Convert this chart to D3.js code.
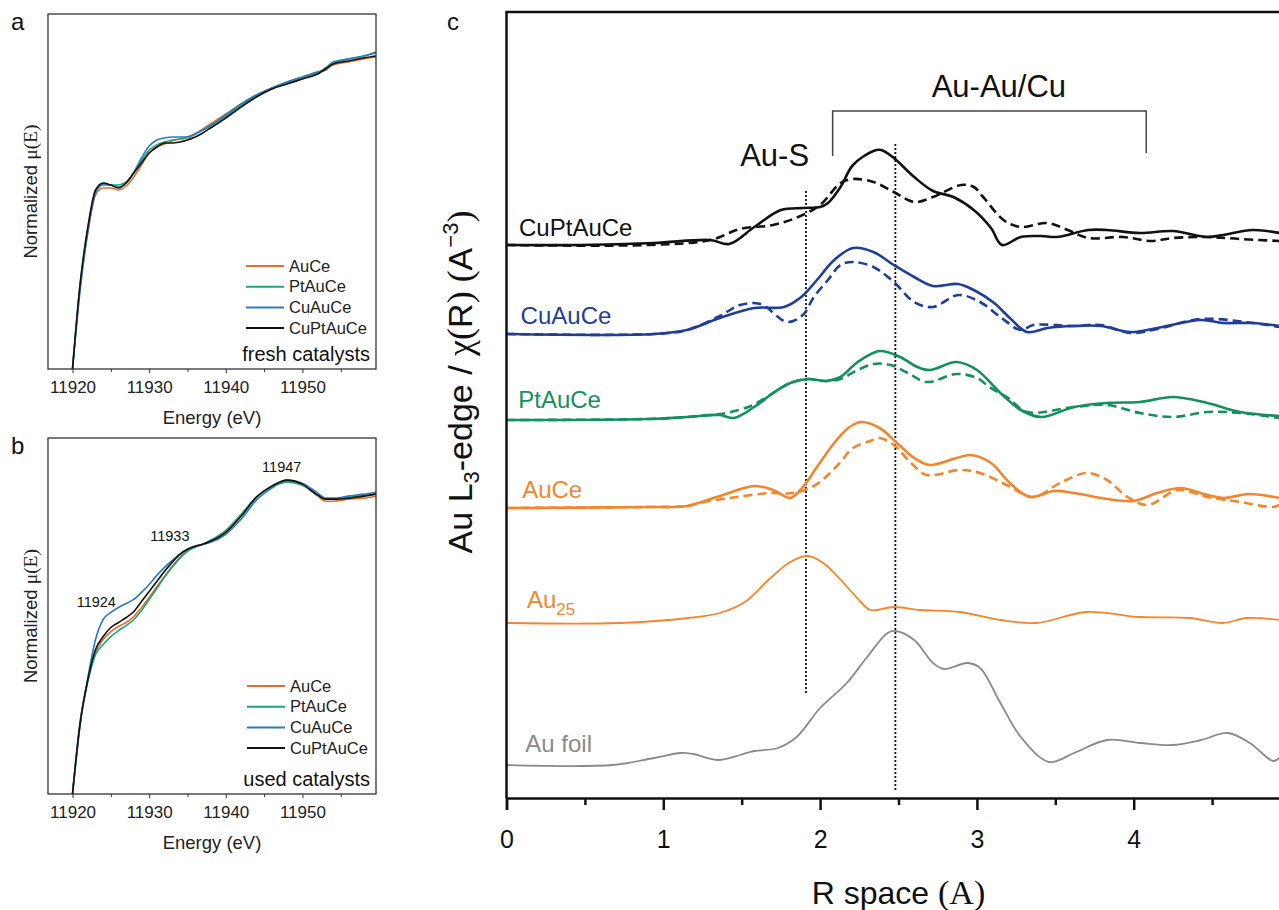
<!DOCTYPE html>
<html>
<head>
<meta charset="utf-8">
<script src="https://cdn.jsdelivr.net/npm/d3@7"></script>
<style>
  body { margin: 0; background: #fff; }
  svg { display: block; font-family: "Liberation Sans", Arial, sans-serif; }
</style>
</head>
<body>
<svg id="fig" width="1279" height="910"></svg>
<script>
// ---------- panels a / b : XANES ----------
const energy = [11920, 11921, 11922, 11923, 11924, 11925, 11926, 11927, 11928, 11929,
  11930, 11931, 11932, 11933, 11934, 11935, 11936, 11937, 11938, 11940,
  11942, 11944, 11946, 11948, 11950, 11952, 11953, 11954, 11956, 11958, 11959.6];
const energyTicks = [11920, 11930, 11940, 11950];
const energyMinor = [11925, 11935, 11945, 11955];
const xanesNames = ['AuCe', 'PtAuCe', 'CuAuCe', 'CuPtAuCe'];
const xanesColors = ['#e36f2c', '#1aa67a', '#2a7bbf', '#111111'];

const freshAuCe = [0, 0.34, 0.548, 0.696, 0.724, 0.724, 0.716, 0.732, 0.768, 0.816,
  0.864, 0.888, 0.9, 0.912, 0.92, 0.924, 0.94, 0.96, 0.98, 1.02,
  1.06, 1.096, 1.124, 1.148, 1.168, 1.188, 1.196, 1.216, 1.228, 1.24, 1.248];
const freshPtAuCe = [0, 0.332, 0.56, 0.708, 0.736, 0.736, 0.736, 0.748, 0.784, 0.832,
  0.876, 0.896, 0.908, 0.916, 0.92, 0.928, 0.94, 0.956, 0.976, 1.012,
  1.056, 1.092, 1.12, 1.144, 1.164, 1.184, 1.204, 1.228, 1.24, 1.252, 1.268];
const freshCuAuCe = [0, 0.316, 0.548, 0.704, 0.74, 0.736, 0.728, 0.744, 0.788, 0.844,
  0.892, 0.916, 0.924, 0.928, 0.928, 0.928, 0.94, 0.956, 0.972, 1.016,
  1.06, 1.096, 1.124, 1.148, 1.168, 1.188, 1.196, 1.224, 1.24, 1.252, 1.264];
const freshCuPtAuCe = [0, 0.344, 0.568, 0.716, 0.744, 0.736, 0.724, 0.744, 0.784, 0.824,
  0.864, 0.888, 0.904, 0.904, 0.908, 0.916, 0.928, 0.944, 0.964, 1.004,
  1.048, 1.088, 1.12, 1.14, 1.16, 1.18, 1.2, 1.22, 1.232, 1.244, 1.252];

const usedAuCe = [0, 0.288, 0.456, 0.564, 0.616, 0.648, 0.668, 0.684, 0.708, 0.744,
  0.784, 0.828, 0.868, 0.908, 0.944, 0.972, 0.988, 0.996, 1.008, 1.048,
  1.112, 1.184, 1.228, 1.248, 1.232, 1.188, 1.168, 1.168, 1.176, 1.18, 1.188];
const usedPtAuCe = [0, 0.288, 0.448, 0.556, 0.596, 0.628, 0.652, 0.672, 0.696, 0.732,
  0.776, 0.82, 0.864, 0.904, 0.94, 0.968, 0.984, 0.996, 1.012, 1.052,
  1.116, 1.184, 1.224, 1.244, 1.232, 1.192, 1.176, 1.176, 1.184, 1.192, 1.2];
const usedCuAuCe = [0, 0.276, 0.464, 0.616, 0.696, 0.724, 0.744, 0.76, 0.776, 0.804,
  0.836, 0.872, 0.904, 0.932, 0.956, 0.976, 0.988, 0.996, 1.004, 1.036,
  1.096, 1.172, 1.22, 1.252, 1.24, 1.2, 1.18, 1.18, 1.188, 1.196, 1.204];
const usedCuPtAuCe = [0, 0.284, 0.456, 0.576, 0.628, 0.664, 0.684, 0.704, 0.728, 0.768,
  0.808, 0.848, 0.888, 0.924, 0.956, 0.976, 0.988, 0.996, 1.008, 1.044,
  1.108, 1.184, 1.228, 1.252, 1.236, 1.192, 1.176, 1.176, 1.18, 1.188, 1.196];

const usedFeatures = ['11924', '11933', '11947'];

// ---------- panel c : EXAFS, [R, chi + offset] ----------
const rTicks = [0, 1, 2, 3, 4];
const rMinor = [0.5, 1.5, 2.5, 3.5, 4.5];

const cuptauceSolid = [[0, 5.53], [0.47, 5.53], [0.94, 5.55], [1.3, 5.58], [1.42, 5.54], [1.58, 5.71],
  [1.75, 5.88], [1.89, 5.9], [2.0, 5.91], [2.05, 5.95], [2.13, 6.11], [2.21, 6.33], [2.34, 6.47],
  [2.39, 6.48], [2.47, 6.4], [2.6, 6.21], [2.72, 6.07], [2.85, 6.01], [2.98, 5.88], [3.09, 5.7],
  [3.16, 5.53], [3.28, 5.61], [3.41, 5.62], [3.51, 5.61], [3.71, 5.68], [3.83, 5.68], [4.04, 5.65],
  [4.25, 5.67], [4.47, 5.61], [4.57, 5.63], [4.76, 5.68], [4.93, 5.65]];
const cuptauceDash = [[0, 5.53], [0.9, 5.53], [1.3, 5.58], [1.49, 5.69], [1.7, 5.73], [1.86, 5.81],
  [2.0, 5.93], [2.13, 6.15], [2.21, 6.19], [2.34, 6.16], [2.47, 6.06], [2.6, 5.96], [2.72, 6.01],
  [2.9, 6.13], [2.98, 6.11], [3.04, 6.01], [3.17, 5.78], [3.28, 5.71], [3.45, 5.75], [3.58, 5.68],
  [3.71, 5.6], [3.93, 5.61], [4.11, 5.57], [4.25, 5.6], [4.47, 5.61], [4.68, 5.59], [4.93, 5.57]];

const cuauceSolid = [[0, 4.64], [0.94, 4.64], [1.15, 4.68], [1.36, 4.8], [1.58, 4.9], [1.77, 4.91],
  [1.88, 5.01], [1.98, 5.18], [2.09, 5.38], [2.21, 5.5], [2.34, 5.46], [2.47, 5.33], [2.6, 5.21],
  [2.72, 5.12], [2.88, 5.14], [2.98, 5.08], [3.11, 4.95], [3.21, 4.8], [3.32, 4.66], [3.45, 4.7],
  [3.62, 4.72], [3.79, 4.72], [3.98, 4.66], [4.15, 4.7], [4.43, 4.78], [4.57, 4.75], [4.76, 4.75],
  [4.93, 4.72]];
const cuauceDash = [[0, 4.64], [0.94, 4.64], [1.15, 4.68], [1.36, 4.82], [1.49, 4.93], [1.62, 4.94],
  [1.79, 4.76], [1.89, 4.83], [1.96, 5.01], [2.05, 5.18], [2.13, 5.33], [2.21, 5.36], [2.34, 5.31],
  [2.47, 5.16], [2.6, 4.96], [2.72, 4.91], [2.88, 5.03], [3.02, 4.96], [3.15, 4.81], [3.28, 4.68],
  [3.36, 4.73], [3.62, 4.72], [3.79, 4.73], [3.98, 4.65], [4.15, 4.69], [4.43, 4.79], [4.76, 4.75],
  [4.93, 4.71]];

const ptauceSolid = [[0, 3.78], [0.9, 3.79], [1.15, 3.81], [1.36, 3.83], [1.45, 3.8], [1.58, 3.91],
  [1.7, 4.05], [1.81, 4.15], [1.92, 4.19], [2.04, 4.17], [2.13, 4.21], [2.24, 4.36], [2.38, 4.47],
  [2.51, 4.41], [2.62, 4.31], [2.7, 4.28], [2.87, 4.36], [3.0, 4.28], [3.15, 4.05], [3.28, 3.88],
  [3.41, 3.81], [3.62, 3.91], [3.83, 3.95], [4.04, 3.96], [4.25, 4.01], [4.47, 3.95], [4.68, 3.86],
  [4.93, 3.82]];
const ptauceDash = [[0, 3.78], [0.9, 3.79], [1.15, 3.81], [1.36, 3.84], [1.43, 3.86], [1.56, 3.92],
  [1.66, 4.01], [1.81, 4.15], [1.92, 4.19], [2.04, 4.17], [2.13, 4.19], [2.24, 4.28], [2.34, 4.34],
  [2.45, 4.33], [2.56, 4.25], [2.68, 4.16], [2.87, 4.24], [3.0, 4.2], [3.08, 4.11], [3.2, 4.0],
  [3.32, 3.86], [3.62, 3.91], [3.83, 3.93], [4.04, 3.85], [4.25, 3.81], [4.47, 3.86], [4.68, 3.85],
  [4.93, 3.8]];

const auceSolid = [[0, 2.9], [0.9, 2.91], [1.15, 2.92], [1.36, 3.02], [1.58, 3.12], [1.7, 3.08],
  [1.81, 3.0], [1.89, 3.11], [1.98, 3.31], [2.09, 3.55], [2.18, 3.7], [2.26, 3.76], [2.38, 3.7],
  [2.49, 3.55], [2.6, 3.4], [2.7, 3.33], [2.87, 3.4], [2.96, 3.43], [3.09, 3.35], [3.21, 3.15],
  [3.34, 3.01], [3.49, 3.07], [3.62, 3.05], [3.83, 2.99], [4.0, 2.97], [4.15, 3.05], [4.3, 3.1],
  [4.47, 3.03], [4.57, 3.0], [4.74, 3.04], [4.93, 3.0]];
const auceDash = [[0, 2.9], [0.9, 2.91], [1.15, 2.92], [1.26, 2.96], [1.47, 3.01], [1.68, 3.05],
  [1.83, 3.05], [1.96, 3.12], [2.05, 3.23], [2.13, 3.36], [2.21, 3.5], [2.32, 3.57], [2.38, 3.6],
  [2.47, 3.53], [2.58, 3.35], [2.68, 3.23], [2.89, 3.28], [3.02, 3.25], [3.19, 3.13], [3.36, 3.01],
  [3.53, 3.15], [3.7, 3.25], [3.83, 3.18], [3.96, 3.01], [4.09, 2.93], [4.28, 3.08], [4.47, 3.01],
  [4.68, 2.96], [4.89, 2.91], [4.93, 2.93]];

const au25 = [[0, 1.75], [0.72, 1.75], [1.16, 1.8], [1.36, 1.85], [1.52, 1.96], [1.67, 2.18],
  [1.81, 2.36], [1.92, 2.42], [2.02, 2.35], [2.15, 2.15], [2.26, 1.96], [2.32, 1.88], [2.47, 1.91],
  [2.64, 1.88], [2.89, 1.86], [3.15, 1.78], [3.38, 1.75], [3.7, 1.86], [4.04, 1.81], [4.36, 1.8],
  [4.57, 1.75], [4.72, 1.8], [4.93, 1.78]];
const auFoil = [[0, 0.33], [0.68, 0.33], [0.94, 0.4], [1.11, 0.45], [1.19, 0.44], [1.35, 0.38],
  [1.49, 0.43], [1.58, 0.47], [1.73, 0.5], [1.85, 0.61], [2.0, 0.9], [2.17, 1.15], [2.3, 1.41],
  [2.43, 1.65], [2.48, 1.67], [2.6, 1.58], [2.72, 1.35], [2.79, 1.29], [2.94, 1.35], [3.02, 1.3],
  [3.15, 0.95], [3.28, 0.61], [3.46, 0.36], [3.62, 0.45], [3.83, 0.58], [4.04, 0.55], [4.25, 0.53],
  [4.43, 0.58], [4.6, 0.65], [4.74, 0.55], [4.89, 0.37], [4.93, 0.4]];

const shellMarks = [1.91, 2.48];

// ---------------------------------------------------
const SANS = '"Liberation Sans", Arial, sans-serif';
const SERIF = '"Liberation Serif", "Times New Roman", serif';
const svg = d3.select('#fig');
const defs = svg.append('defs');

const xE = d3.scaleLinear().domain([11916.8, 11959.6]).range([48, 376]);

function xanesPanel(cfg) {
  const y = d3.scaleLinear().domain([0, 1.42]).range([cfg.bottom, cfg.top]);
  const g = svg.append('g');

  defs.append('clipPath').attr('id', 'clip-' + cfg.tag)
    .append('rect')
    .attr('x', xE.range()[0]).attr('y', cfg.top)
    .attr('width', xE.range()[1] - xE.range()[0]).attr('height', cfg.bottom - cfg.top);

  const line = d3.line()
    .x((d, i) => xE(energy[i]))
    .y(d => y(d))
    .curve(d3.curveMonotoneX);

  cfg.series.forEach((s, i) => {
    g.append('path')
      .datum(s)
      .attr('clip-path', `url(#clip-${cfg.tag})`)
      .attr('fill', 'none')
      .attr('stroke', xanesColors[i])
      .attr('stroke-width', 1.6)
      .attr('d', line);
  });

  g.append('rect')
    .attr('x', xE.range()[0]).attr('y', cfg.top)
    .attr('width', xE.range()[1] - xE.range()[0]).attr('height', cfg.bottom - cfg.top)
    .attr('fill', 'none').attr('stroke', '#333').attr('stroke-width', 1.3);

  g.append('g')
    .attr('transform', `translate(0,${cfg.bottom})`)
    .call(d3.axisBottom(xE).tickValues(energyTicks).tickFormat(d3.format('d')).tickSize(4).tickPadding(8))
    .call(a => a.select('.domain').remove())
    .call(a => a.selectAll('line').attr('stroke', '#333'))
    .call(a => a.selectAll('text').attr('font-size', 17).attr('font-family', SANS).attr('fill', '#222'));

  g.append('g')
    .attr('transform', `translate(0,${cfg.bottom})`)
    .call(d3.axisBottom(xE).tickValues(energyMinor).tickFormat('').tickSize(3))
    .call(a => a.select('.domain').remove())
    .call(a => a.selectAll('line').attr('stroke', '#333'));

  g.append('text')
    .attr('x', (xE.range()[0] + xE.range()[1]) / 2)
    .attr('y', cfg.bottom + 55)
    .attr('text-anchor', 'middle')
    .attr('font-size', 18.5).attr('fill', '#222')
    .text('Energy (eV)');

  const yt = g.append('text')
    .attr('transform', `translate(37,${(cfg.top + cfg.bottom) / 2}) rotate(-90)`)
    .attr('text-anchor', 'middle')
    .attr('font-size', 18.5).attr('fill', '#222');
  yt.append('tspan').text('Normalized ');
  yt.append('tspan').attr('font-family', SERIF).attr('font-size', 19.5).text('\u03bc(E)');

  // legend
  xanesNames.forEach((n, i) => {
    const ly = cfg.legendY + i * 20.7;
    g.append('line')
      .attr('x1', cfg.legendX).attr('x2', cfg.legendX + 38)
      .attr('y1', ly).attr('y2', ly)
      .attr('stroke', xanesColors[i]).attr('stroke-width', 2);
    g.append('text')
      .attr('x', cfg.legendX + 43).attr('y', ly).attr('dy', '0.35em')
      .attr('font-size', 16.5).attr('fill', '#222')
      .text(n);
  });

  g.append('text')
    .attr('x', 370).attr('y', cfg.bottom - 8)
    .attr('text-anchor', 'end')
    .attr('font-size', 20).attr('fill', '#111')
    .text(cfg.caption);

  g.append('text')
    .attr('x', 11).attr('y', cfg.top + 16)
    .attr('font-size', 24).attr('fill', '#111')
    .text(cfg.tag);

  return {g, y};
}

xanesPanel({
  tag: 'a', top: 14, bottom: 369,
  series: [freshAuCe, freshPtAuCe, freshCuAuCe, freshCuPtAuCe],
  legendX: 246, legendY: 266, caption: 'fresh catalysts'
});

const pb = xanesPanel({
  tag: 'b', top: 438, bottom: 794,
  series: [usedAuCe, usedPtAuCe, usedCuAuCe, usedCuPtAuCe],
  legendX: 247, legendY: 686, caption: 'used catalysts'
});

// feature energies marked on the used spectra
const featurePos = [[11923.1, 0.744], [11932.7, 1.008], [11947.3, 1.284]];
usedFeatures.forEach((t, i) => {
  pb.g.append('text')
    .attr('x', xE(featurePos[i][0])).attr('y', pb.y(featurePos[i][1]))
    .attr('text-anchor', 'middle')
    .attr('font-size', 14.5).attr('fill', '#111')
    .text(t);
});

// ---------- panel c ----------
const xR = d3.scaleLinear().domain([0, 5]).range([506.5, 1290.5]);
const yC = d3.scaleLinear().domain([0, 7.86]).range([798, 12]);
const gc = svg.append('g');

const exLine = d3.line()
  .x(d => xR(d[0]))
  .y(d => yC(d[1]))
  .curve(d3.curveCatmullRom.alpha(0.5));

const BLACK = '#111', BLUE = '#1f3e9c', GREEN = '#14905f', ORANGE = '#f5852c', GREY = '#8a8a8a';

const exafs = [
  {pts: cuptauceDash, color: BLACK, w: 2.6, dash: '9,5'},
  {pts: cuptauceSolid, color: BLACK, w: 2.6},
  {pts: cuauceDash, color: BLUE, w: 2.6, dash: '9,5'},
  {pts: cuauceSolid, color: BLUE, w: 2.6},
  {pts: ptauceDash, color: GREEN, w: 2.6, dash: '9,5'},
  {pts: ptauceSolid, color: GREEN, w: 2.6},
  {pts: auceDash, color: ORANGE, w: 2.6, dash: '9,5'},
  {pts: auceSolid, color: ORANGE, w: 2.6},
  {pts: au25, color: ORANGE, w: 1.8},
  {pts: auFoil, color: GREY, w: 1.8}
];

// reference distances
const markSpan = [[1.05, 6.08], [0.08, 6.56]];
shellMarks.forEach((r, i) => {
  gc.append('line')
    .attr('x1', xR(r)).attr('x2', xR(r))
    .attr('y1', yC(markSpan[i][0])).attr('y2', yC(markSpan[i][1]))
    .attr('stroke', '#111').attr('stroke-width', 1.8).attr('stroke-dasharray', '2,2');
});

exafs.forEach(s => {
  gc.append('path')
    .datum(s.pts)
    .attr('fill', 'none')
    .attr('stroke', s.color)
    .attr('stroke-width', s.w)
    .attr('stroke-dasharray', s.dash || null)
    .attr('stroke-linejoin', 'round')
    .attr('d', exLine);
});

// frame: left + top
gc.append('path')
  .attr('d', `M${xR(5)},${yC.range()[1]}H${xR(0)}V${yC.range()[0]}`)
  .attr('fill', 'none').attr('stroke', '#111').attr('stroke-width', 2.5);

gc.append('g')
  .attr('transform', `translate(0,${yC.range()[0]})`)
  .call(d3.axisBottom(xR).tickValues(rTicks).tickFormat(d3.format('d')).tickSize(12).tickPadding(20))
  .call(a => a.select('.domain').attr('stroke', '#111').attr('stroke-width', 2.5))
  .call(a => a.selectAll('.tick line').attr('stroke', '#111').attr('stroke-width', 2.5))
  .call(a => a.selectAll('text').attr('font-size', 25).attr('font-family', SANS).attr('fill', '#111'));

gc.append('g')
  .attr('transform', `translate(0,${yC.range()[0]})`)
  .call(d3.axisBottom(xR).tickValues(rMinor).tickFormat('').tickSize(7))
  .call(a => a.select('.domain').remove())
  .call(a => a.selectAll('.tick line').attr('stroke', '#111').attr('stroke-width', 2.5));

const xt = gc.append('text')
  .attr('x', (xR(0) + xR(5)) / 2).attr('y', 904)
  .attr('text-anchor', 'middle')
  .attr('font-size', 32).attr('fill', '#111');
xt.append('tspan').text('R space ');
xt.append('tspan').attr('font-family', SERIF).attr('font-size', 34).text('(A)');

const yt = gc.append('text')
  .attr('transform', `translate(472,382) rotate(-90)`)
  .attr('text-anchor', 'middle')
  .attr('font-size', 34).attr('fill', '#111');
yt.append('tspan').text('Au L');
yt.append('tspan').attr('font-size', 22).attr('dy', 7).text('3');
yt.append('tspan').attr('dy', -7).text('-edge / ');
yt.append('tspan').attr('font-family', SERIF).attr('font-size', 36).text('\u03c7');
yt.append('tspan').attr('font-family', SERIF).attr('font-size', 36).text('(');
yt.append('tspan').text('R');
yt.append('tspan').attr('font-family', SERIF).attr('font-size', 36).text(') (');
yt.append('tspan').text('A');
yt.append('tspan').attr('font-size', 22).attr('dy', -14).text('\u22123');
yt.append('tspan').attr('dy', 14).attr('font-family', SERIF).attr('font-size', 36).text(')');

// series names
const nameLayout = [
  {text: 'CuPtAuCe', color: BLACK, r: 0.08, v: 5.62},
  {text: 'CuAuCe', color: BLUE, r: 0.09, v: 4.74},
  {text: 'PtAuCe', color: GREEN, r: 0.075, v: 3.9},
  {text: 'AuCe', color: ORANGE, r: 0.1, v: 3.0},
  {text: 'Au', sub: '25', color: ORANGE, r: 0.13, v: 1.9},
  {text: 'Au foil', color: GREY, r: 0.12, v: 0.46}
];
nameLayout.forEach(d => {
  const t = gc.append('text')
    .attr('x', xR(d.r)).attr('y', yC(d.v))
    .attr('font-size', 24).attr('fill', d.color);
  t.append('tspan').text(d.text);
  if (d.sub) t.append('tspan').attr('font-size', 17).attr('dy', 7).text(d.sub);
});

// bond annotations
gc.append('path')
  .attr('d', `M${xR(2.08)},${yC(6.42)}V${yC(6.87)}H${xR(4.08)}V${yC(6.45)}`)
  .attr('fill', 'none').attr('stroke', '#444').attr('stroke-width', 1.5);
gc.append('text')
  .attr('x', xR(3.14)).attr('y', yC(7.01))
  .attr('text-anchor', 'middle').attr('font-size', 31).attr('fill', '#111')
  .text('Au-Au/Cu');
gc.append('text')
  .attr('x', xR(1.71)).attr('y', yC(6.32))
  .attr('text-anchor', 'middle').attr('font-size', 31).attr('fill', '#111')
  .text('Au-S');

gc.append('text')
  .attr('x', 447).attr('y', 30)
  .attr('font-size', 24).attr('fill', '#111')
  .text('c');
</script>
</body>
</html>
